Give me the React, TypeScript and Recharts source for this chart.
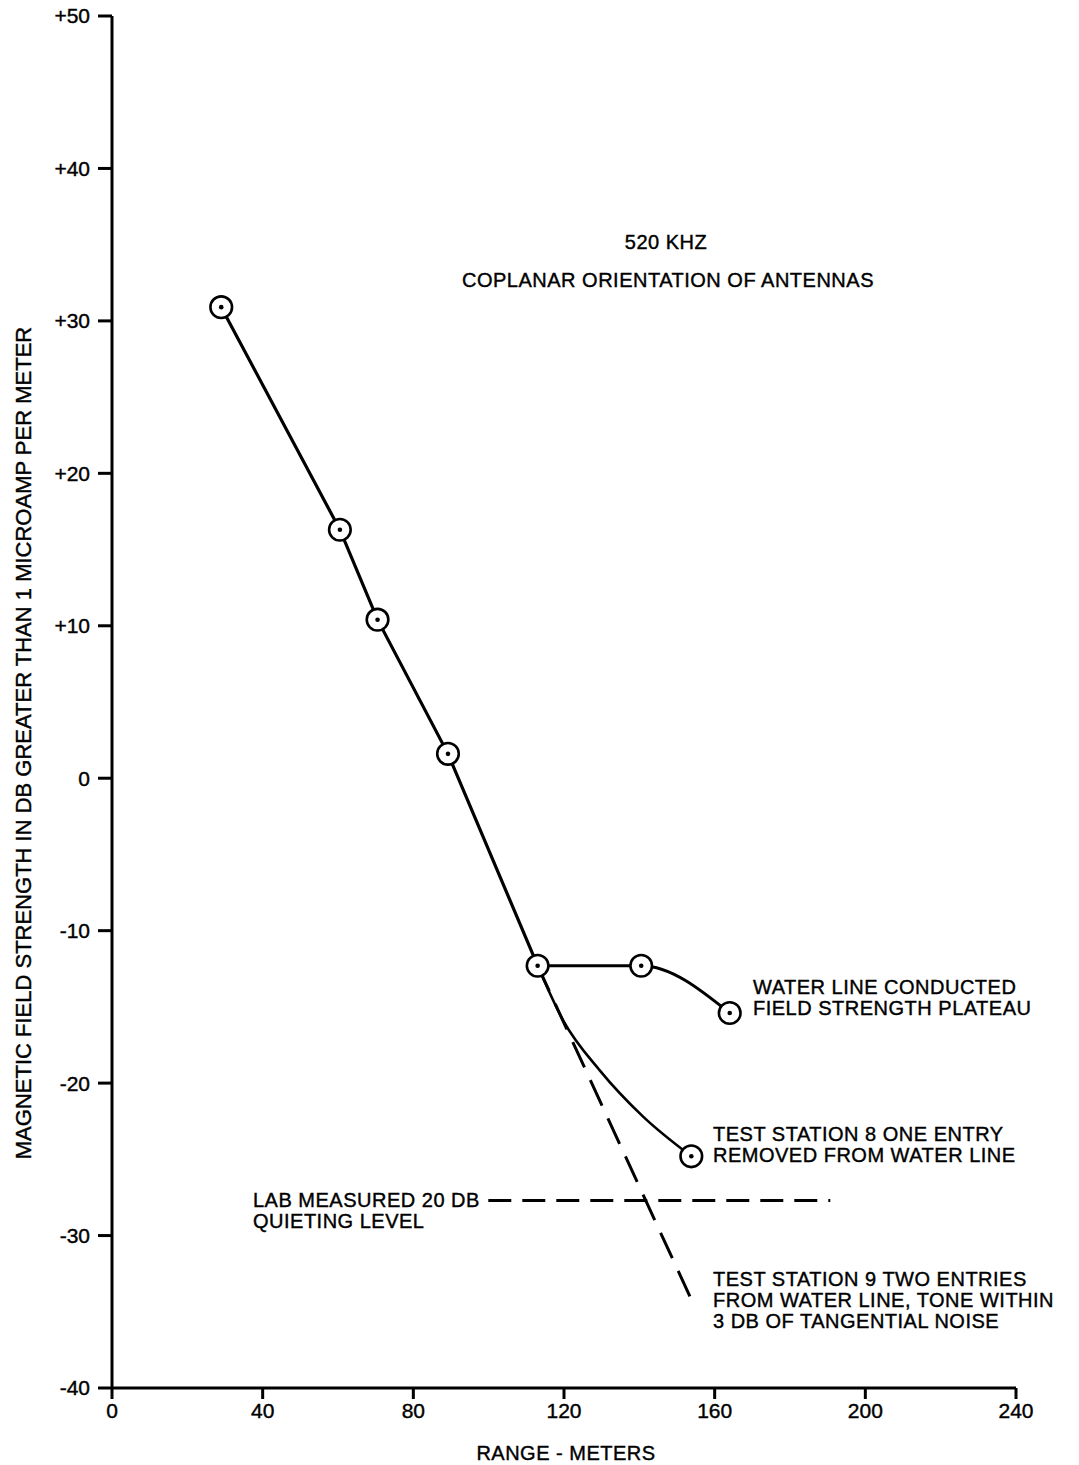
import { LineChart, Line, XAxis, YAxis } from "recharts"

// Range in meters / field strength in dB above 1 microamp per meter
const rangeMain = [29, 60.5, 70.5, 89.2, 113]
const dbMain = [30.9, 16.3, 10.4, 1.6, -12.3]

const rangeWater = [113, 140.5, 164]
const dbWater = [-12.3, -12.3, -15.4]

const rangeStation8 = [113, 119.8, 129.6, 141, 153.8]
const dbStation8 = [-12.3, -15.9, -19.2, -22.2, -24.8]

const rangeStation9 = [113, 154]
const dbStation9 = [-12.3, -34.3]

const rangeQuieting = [99.9, 190.7]
const dbQuieting = [-27.7, -27.7]

const xTicks = [0, 40, 80, 120, 160, 200, 240]
const yTicks = [-40, -30, -20, -10, 0, 10, 20, 30, 40, 50]

const FONT = "'Liberation Sans', Arial, Helvetica, sans-serif"
const INK = "#000"

const toRows = (xs: number[], ys: number[]) => xs.map((range, i) => ({ range, db: ys[i] }))

const mainData = toRows(rangeMain, dbMain)
const waterData = toRows(rangeWater, dbWater)
const station8Data = toRows(rangeStation8, dbStation8)
const station9Data = toRows(rangeStation9, dbStation9)
const quietingData = toRows(rangeQuieting, dbQuieting)

const formatDb = (v: number) => (v > 0 ? `+${v}` : `${v}`)

// circled-dot marker used for the measured points
function Marker({ cx, cy }: { cx: number; cy: number }) {
        return (
                <g>
                        <circle cx={cx} cy={cy} r={10.8} fill="#fff" stroke={INK} strokeWidth={2.6} />
                        <circle cx={cx} cy={cy} r={2.3} fill={INK} />
                </g>
        )
}

// only draw markers on the given indexes
const markersAt = (which: (i: number, n: number) => boolean, n: number) => (props: any) => {
        const { cx, cy, index } = props
        if (!which(index, n)) return <g key={`e-${index}`} />
        return (
                <g key={`m-${index}`}>
                        <Marker cx={cx} cy={cy} />
                </g>
        )
}

const notes: { x: number; y: number; text: string; anchor?: "start" | "middle" }[] = [
        { x: 666, y: 249, text: "520 KHZ", anchor: "middle" },
        { x: 668, y: 287, text: "COPLANAR ORIENTATION OF ANTENNAS", anchor: "middle" },
        { x: 753, y: 994, text: "WATER LINE CONDUCTED" },
        { x: 753, y: 1015, text: "FIELD STRENGTH PLATEAU" },
        { x: 713, y: 1141, text: "TEST STATION 8 ONE ENTRY" },
        { x: 713, y: 1162, text: "REMOVED FROM WATER LINE" },
        { x: 253, y: 1207, text: "LAB MEASURED 20 DB" },
        { x: 253, y: 1228, text: "QUIETING LEVEL" },
        { x: 713, y: 1286, text: "TEST STATION 9 TWO ENTRIES" },
        { x: 713, y: 1307, text: "FROM WATER LINE, TONE WITHIN" },
        { x: 713, y: 1328, text: "3 DB OF TANGENTIAL NOISE" },
        { x: 566, y: 1460, text: "RANGE - METERS", anchor: "middle" },
]

export default function App() {
        return (
                <div
                        style={{
                                position: "absolute",
                                left: 0,
                                top: 0,
                                width: 1079,
                                height: 1465,
                                background: "#fff",
                                fontFamily: FONT,
                        }}
                >
                        <LineChart
                                width={1079}
                                height={1465}
                                margin={{ top: 16, right: 63, bottom: 0, left: 0 }}
                        >
                                <XAxis
                                        type="number"
                                        dataKey="range"
                                        domain={[0, 240]}
                                        ticks={xTicks}
                                        interval={0}
                                        allowDuplicatedCategory={false}
                                        axisLine={{ stroke: INK, strokeWidth: 3 }}
                                        tickLine={{ stroke: INK, strokeWidth: 3 }}
                                        tickSize={11}
                                        tickMargin={4}
                                        tick={{ fill: INK, fontSize: 21, fontFamily: FONT, stroke: INK, strokeWidth: 0.4 }}
                                        height={77}
                                />
                                <YAxis
                                        type="number"
                                        dataKey="db"
                                        domain={[-40, 50]}
                                        ticks={yTicks}
                                        interval={0}
                                        tickFormatter={formatDb}
                                        axisLine={{ stroke: INK, strokeWidth: 3 }}
                                        tickLine={{ stroke: INK, strokeWidth: 3 }}
                                        tickSize={14}
                                        tickMargin={8}
                                        tick={{ fill: INK, fontSize: 21, fontFamily: FONT, stroke: INK, strokeWidth: 0.4 }}
                                        width={112}
                                />

                                {/* dashed references */}
                                <Line
                                        data={quietingData}
                                        dataKey="db"
                                        type="linear"
                                        stroke={INK}
                                        strokeWidth={3}
                                        strokeDasharray="23 11"
                                        dot={false}
                                        activeDot={false}
                                        isAnimationActive={false}
                                />
                                <Line
                                        data={station9Data}
                                        dataKey="db"
                                        type="linear"
                                        stroke={INK}
                                        strokeWidth={3}
                                        strokeDasharray="28 14"
                                        dot={false}
                                        activeDot={false}
                                        isAnimationActive={false}
                                />

                                {/* test station 8 */}
                                <Line
                                        data={station8Data}
                                        dataKey="db"
                                        type="monotone"
                                        stroke={INK}
                                        strokeWidth={2.6}
                                        dot={markersAt((i, n) => i === n - 1, station8Data.length)}
                                        activeDot={false}
                                        isAnimationActive={false}
                                />

                                {/* water line plateau */}
                                <Line
                                        data={waterData}
                                        dataKey="db"
                                        type="monotone"
                                        stroke={INK}
                                        strokeWidth={3}
                                        dot={markersAt((i) => i > 0, waterData.length)}
                                        activeDot={false}
                                        isAnimationActive={false}
                                />

                                {/* main decay */}
                                <Line
                                        data={mainData}
                                        dataKey="db"
                                        type="linear"
                                        stroke={INK}
                                        strokeWidth={3.2}
                                        dot={markersAt(() => true, mainData.length)}
                                        activeDot={false}
                                        isAnimationActive={false}
                                />
                        </LineChart>

                        {/* text annotations */}
                        <svg
                                width={1079}
                                height={1465}
                                style={{ position: "absolute", left: 0, top: 0, pointerEvents: "none" }}
                        >
                                {notes.map((n) => (
                                        <text
                                                key={n.text}
                                                x={n.x}
                                                y={n.y}
                                                textAnchor={n.anchor ?? "start"}
                                                fontSize={20}
                                                letterSpacing={0.5}
                                                fontFamily={FONT}
                                                fill={INK}
                                                stroke={INK}
                                                strokeWidth={0.4}
                                        >
                                                {n.text}
                                        </text>
                                ))}
                                <text
                                        x={31}
                                        y={743}
                                        transform="rotate(-90 31 743)"
                                        textAnchor="middle"
                                        fontSize={22}
                                        fontFamily={FONT}
                                        fill={INK}
                                        stroke={INK}
                                        strokeWidth={0.4}
                                >
                                        MAGNETIC FIELD STRENGTH IN DB GREATER THAN 1 MICROAMP PER METER
                                </text>
                        </svg>
                </div>
        )
}
